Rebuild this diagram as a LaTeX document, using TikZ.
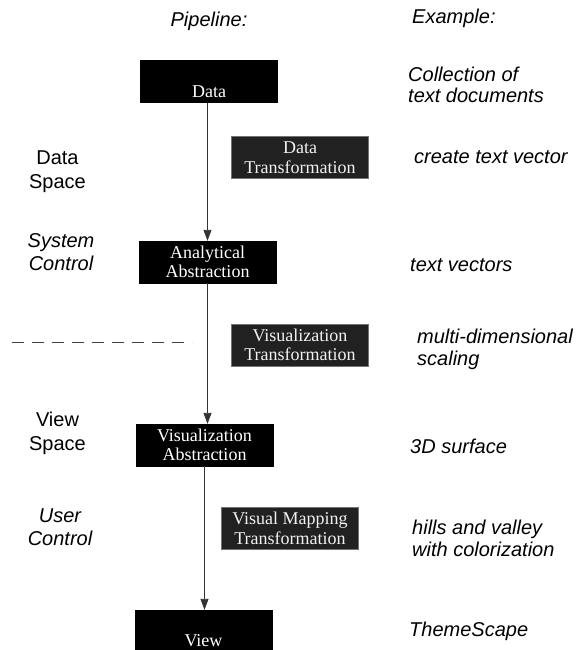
\documentclass[tikz,border=0pt]{standalone}
\usepackage{fontspec}
\setmainfont{Liberation Serif}
\setsansfont{Liberation Sans}
\usetikzlibrary{arrows.meta}
\tikzset{
  mainbox/.style={rectangle, fill=black, draw=black, text=white, minimum width=137pt, minimum height=42pt,
    inner sep=0pt, align=center, font=\rmfamily\fontsize{18}{19.5}\selectfont},
  transbox/.style={mainbox, fill=black!87, draw=black!55, line width=0.6pt, text=black!5},
  lbl/.style={font=\sffamily\fontsize{20}{24}\selectfont, align=center, inner sep=0pt},
  ilbl/.style={lbl, font=\sffamily\itshape\fontsize{20}{23}\selectfont},
  ex/.style={font=\sffamily\itshape\fontsize{20}{21.5}\selectfont, align=left, anchor=west, inner sep=0pt},
  arr/.style={draw=black!80, line width=0.9pt, -{Triangle[length=11pt,width=8pt]}},
  sep/.style={draw=black!75, line width=0.7pt, dash pattern=on 12pt off 8pt}
}
\begin{document}
\begin{tikzpicture}[x=1pt,y=-1pt]
\useasboundingbox (0,0) rectangle (585,650);
\begin{scope}
\clip (0,0) rectangle (585,650);
% pipeline boxes
\node[mainbox] (data) at (209,81.5) {\phantom{X}\\Data};
\node[transbox] (dtrans) at (300,157.5) {Data\\Transformation};
\node[mainbox] (anal) at (207.5,262) {Analytical\\Abstraction};
\node[transbox] (vtrans) at (300,345) {Visualization\\Transformation};
\node[mainbox] (vabs) at (204.5,445) {Visualization\\Abstraction};
\node[transbox] (mtrans) at (290,528.5) {Visual Mapping\\Transformation};
\node[mainbox] (view) at (203.5,631) {\phantom{X}\\View};
\end{scope}
% connectors
\draw[arr] ([xshift=-1.5pt]data.south) -- ([xshift=-1.5pt]data.south |- anal.north);
\draw[arr] (anal.south) -- (anal.south |- vabs.north);
\draw[arr] (vabs.south) -- (vabs.south |- view.north);
% separator
\coordinate (s1) at (12,342);
\coordinate (s2) at (192,342);
\draw[sep] (s1) -- (s2);
% headers
\node[ilbl] (hpipe) at (209,21) {Pipeline:};
\node[ex] (hex) at (412,18) {Example:};
% left labels
\node[lbl] (ds) at (57.5,172) {Data\\Space};
\node[ilbl] (sc) at (61,252) {System\\Control};
\node[lbl] (vs) at (57.5,433) {View\\Space};
\node[ilbl] (uc) at (60,527.5) {User\\Control};
% examples
\node[ex] (e1) at (408,85) {Collection of\\text documents};
\node[ex] (e2) at (414,157) {create text vector};
\node[ex] (e3) at (410,265) {text vectors};
\node[ex] (e4) at (417,349.5) {multi-dimensional\\scaling};
\node[ex] (e5) at (410,446) {3D surface};
\node[ex] (e6) at (412,538.5) {hills and valley\\with colorization};
\node[ex] (e7) at (409,631) {ThemeScape};
\end{tikzpicture}
\end{document}
